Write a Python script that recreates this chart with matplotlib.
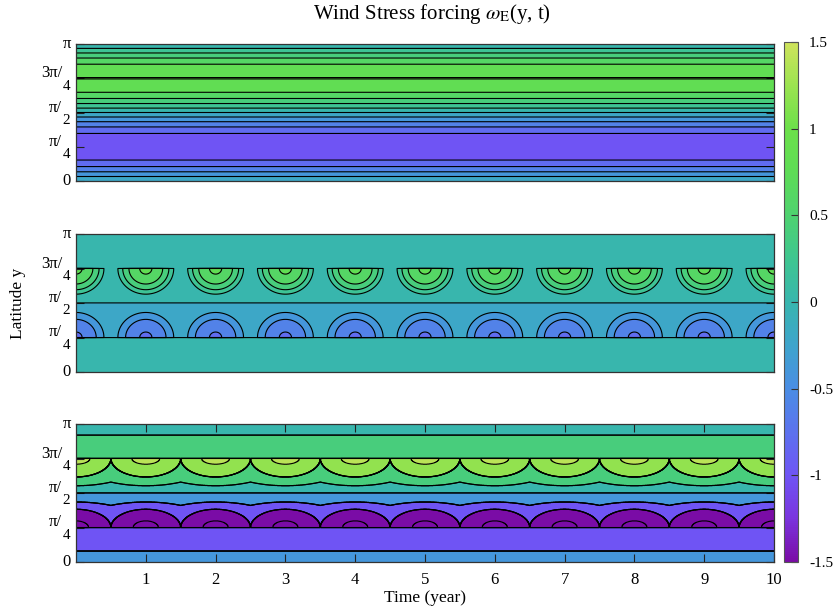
import numpy as np
import matplotlib
matplotlib.use("Agg")
import matplotlib.pyplot as plt
from matplotlib.colors import LinearSegmentedColormap, Normalize
from matplotlib.cm import ScalarMappable

plt.rcParams['font.family'] = ['Liberation Serif', 'DejaVu Serif']
plt.rcParams['mathtext.fontset'] = 'stix'

# ---- colour scale -------------------------------------------------------
cmap_values = [-1.5, -1.25, -1.0, -0.75, -0.5, -0.25, 0.0, 0.25, 0.5, 0.75, 1.0, 1.25, 1.5]
cmap_colors = ['#7a0ca6', '#7a35de', '#6f55f5', '#5c72ee', '#4a8ee4', '#3ea4cc',
               '#38b6ae', '#3fc690', '#4ed270', '#5edc56', '#6ce04a', '#9ae350', '#cfe35c']
cbar_ticks = [-1.5, -1.0, -0.5, 0.0, 0.5, 1.0, 1.5]
cbar_ticklabels = ['-1.5', '-1', '-0.5', '0', '0.5', '1', '1.5']

# contour levels every 0.2; each band takes the colour of its lower level
levels = np.round(np.arange(-10, 11) * 0.2, 2)

# axes ticks
year_ticks = list(range(1, 11))
lat_ticks = [0.0, np.pi / 4, np.pi / 2, 3 * np.pi / 4, np.pi]
lat_labels = [('0', None), ('π/', '4'), ('π/', '2'), ('3π/', '4'), ('π', None)]

# ---- forcing parameters ---------------------------------------------------
# steady part: -A sin(2y), amplitude differs per hemisphere
steady_amp_south = 0.976
steady_amp_north = 1.0005

# seasonal part: annual half-cells sitting on y = 3π/4 (north) and y = π/4 (south)
seasonal_background = 0.05
seasonal_band_south = -0.1
north_cell_peak, north_cell_halfwidth, north_cell_depth = 0.78, 0.445, 0.65
south_cell_peak, south_cell_halfwidth, south_cell_depth = 0.52, 0.445, 0.634

# total forcing: layered values
total_cap_edge = 2.89
total_cap, total_north_band, total_north_base = 0.1, 0.5, 0.1
total_north_skirt = (0.5, 1.0, 0.62)      # value, half-width (yr), depth (rad)
total_north_cell = (1.3, 0.5, 0.42)
total_north_core = (1.5, 0.2, 0.13)
total_south_base = -0.3
total_south_skirt = (-0.9, 1.0, 0.58)
total_south_cell = (-1.5, 0.5, 0.415)
total_south_core = (-1.7, 0.18, 0.15)
total_polar_edge = 0.25
total_polar_band, total_polar_cap = -0.9, -0.3

# ---- grid -----------------------------------------------------------------
t = np.linspace(0, 10, 1601)
y = np.linspace(0, np.pi, 1001)
T, Y = np.meshgrid(t, y)
dt = np.mod(T - 0.5, 1.0) - 0.5          # offset from mid-year
north = (Y > np.pi / 2) & (Y <= 3 * np.pi / 4)
south = (Y >= np.pi / 4) & (Y <= np.pi / 2)


def radius(hw, depth, y0):
    return np.sqrt((dt / hw) ** 2 + ((Y - y0) / depth) ** 2)


# steady forcing
F1 = -np.sin(2 * Y) * np.where(Y < np.pi / 2, steady_amp_south, steady_amp_north)

# seasonal forcing
F2 = np.full_like(T, seasonal_background)
F2[south] = seasonal_band_south
rn = radius(north_cell_halfwidth, north_cell_depth, 3 * np.pi / 4)
rs = radius(south_cell_halfwidth, south_cell_depth, np.pi / 4)
F2 = np.where(north & (rn < 1), seasonal_background + north_cell_peak * (1 - rn ** 2), F2)
F2 = np.where(south & (rs < 1), seasonal_band_south - south_cell_peak * (1 - rs ** 2), F2)

# total forcing
F3 = np.full_like(T, total_cap)
F3[(Y <= total_cap_edge) & (Y > 3 * np.pi / 4)] = total_north_band
F3[north] = total_north_base
for val, hw, d in (total_north_skirt, total_north_cell, total_north_core):
    F3 = np.where(north & (radius(hw, d, 3 * np.pi / 4) < 1), val, F3)
F3[south] = total_south_base
for val, hw, d in (total_south_skirt, total_south_cell, total_south_core):
    F3 = np.where(south & (radius(hw, d, np.pi / 4) < 1), val, F3)
F3[Y < np.pi / 4] = total_polar_band
F3[Y < total_polar_edge] = total_polar_cap

# ---- figure ----------------------------------------------------------------
W, H = 836, 610
fig = plt.figure(figsize=(W / 100, H / 100), dpi=100)
cmap = LinearSegmentedColormap.from_list(
    'forcing', [((v + 1.5) / 3.0, c) for v, c in zip(cmap_values, cmap_colors)])
norm = Normalize(vmin=-1.5, vmax=1.5)
band_colors = [cmap(np.clip(norm(lv), 0, 1)) for lv in levels[:-1]]


def px_axes(x0, y0, x1, y1):
    return fig.add_axes([x0 / W, 1 - y1 / H, (x1 - x0) / W, (y1 - y0) / H])


panels = [px_axes(76, 44, 774, 181), px_axes(76, 234, 774, 372), px_axes(76, 424, 774, 562)]
fields = [F1, F2, F3]

for i, (ax, F) in enumerate(zip(panels, fields)):
    ax.contourf(T, Y, F, levels=levels, colors=band_colors)
    ax.contour(T, Y, F, levels=levels, colors='black', linewidths=0.8,
               linestyles='solid')
    ax.set_xlim(0, 10)
    ax.set_ylim(0, np.pi)
    for s in ax.spines.values():
        s.set_color('#333333')
        s.set_linewidth(0.9)
    ax.set_yticks(lat_ticks)
    ax.set_yticklabels([])
    ax.tick_params(axis='y', direction='in', length=6, left=True, right=True,
                   color='#222222', width=0.8)
    if i < 2:
        ax.tick_params(axis='x', bottom=False, top=False, labelbottom=False)
    else:
        ax.set_xticks(year_ticks)
        ax.set_xticklabels([str(v) for v in year_ticks], fontsize=12)
        ax.tick_params(axis='x', direction='in', length=6, top=True, bottom=True,
                       color='#222222', width=0.8, pad=7)
    for v, (num, den) in zip(lat_ticks, lat_labels):
        if den is None:
            ax.annotate(num, xy=(0, v), xycoords=('axes fraction', 'data'),
                        xytext=(-5, 0), textcoords='offset pixels',
                        ha='right', va='center', fontsize=12)
        else:
            ax.annotate(num, xy=(0, v), xycoords=('axes fraction', 'data'),
                        xytext=(-14, 5), textcoords='offset pixels',
                        ha='right', va='center', fontsize=12)
            ax.annotate(den, xy=(0, v), xycoords=('axes fraction', 'data'),
                        xytext=(-6, -8), textcoords='offset pixels',
                        ha='right', va='center', fontsize=11)

# colour bar
cax = px_axes(784, 42, 798, 562)
sm = ScalarMappable(norm=norm, cmap=cmap)
cb = fig.colorbar(sm, cax=cax, ticks=cbar_ticks)
cb.ax.set_yticklabels(cbar_ticklabels, fontsize=11)
cb.ax.tick_params(direction='in', length=5, right=True, left=False, color='#333333', pad=8)
cb.outline.set_edgecolor('#555555')
cb.outline.set_linewidth(0.8)

fig.text(432 / W, 1 - 14 / H, r'Wind Stress forcing $\omega_{\mathrm{E}}$(y, t)',
         ha='center', va='center', fontsize=15)
fig.text(425 / W, 1 - 598 / H, 'Time (year)', ha='center', va='center', fontsize=12.5)
fig.text(18 / W, 1 - 303 / H, 'Latitude y', ha='center', va='center',
         rotation=90, fontsize=12.5)

fig.savefig('out.png', dpi=100)
